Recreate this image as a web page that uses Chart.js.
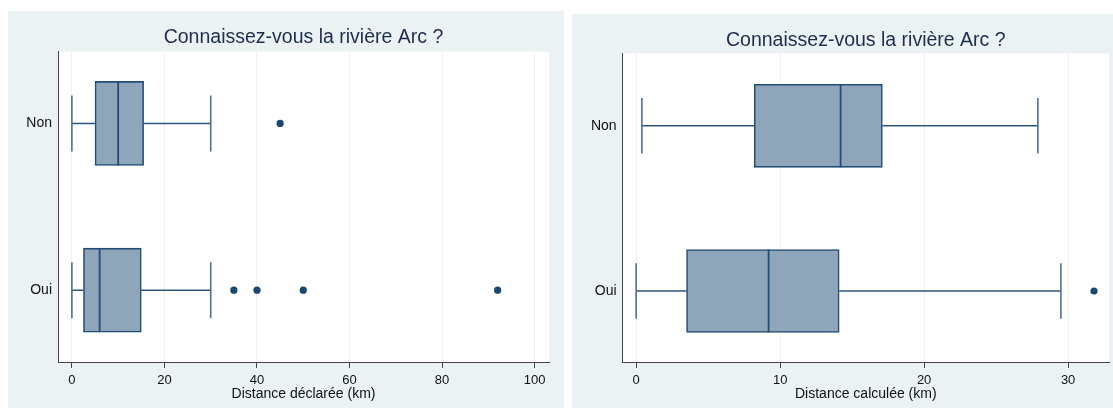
<!DOCTYPE html>
<html>
<head>
<meta charset="utf-8">
<script src="https://cdn.jsdelivr.net/npm/chart.js@4/dist/chart.umd.min.js"></script>
<style>
  html, body { margin: 0; padding: 0; background: #ffffff; }
  body { width: 1113px; height: 408px; overflow: hidden; position: relative; }
  .panel { position: absolute; background: #EAF2F3; }
  #p1 { left: 8px; top: 11px; width: 556px; height: 397px; }
  #p2 { left: 572px; top: 14px; width: 541px; height: 394px; }
  canvas { display: block; }
</style>
</head>
<body>
<div class="panel" id="p1"><canvas id="c1"></canvas></div>
<div class="panel" id="p2"><canvas id="c2"></canvas></div>
<script>
// Groups on the vertical axis (0 = bottom, 1 = top)
const groupLabels = ['Oui', 'Non'];
const groupPos = [0, 1];

// Distance déclarée (km): box-plot summaries per group [Oui, Non]
const declLow  = [0, 0];
const declQ1   = [2.5, 5];
const declMed  = [6, 10];
const declQ3   = [15, 15.5];
const declHigh = [30, 30];
const declOutX     = [35, 40, 50, 92, 45];
const declOutGroup = [0, 0, 0, 0, 1];
const declTicks = [0, 20, 40, 60, 80, 100];

// Distance calculée (km): box-plot summaries per group [Oui, Non]
const calcLow  = [0, 0.4];
const calcQ1   = [3.5, 8.2];
const calcMed  = [9.2, 14.2];
const calcQ3   = [14.1, 17.1];
const calcHigh = [29.5, 27.9];
const calcOutX     = [31.8];
const calcOutGroup = [0];
const calcTicks = [0, 10, 20, 30];

const titleText = 'Connaissez-vous la rivière Arc ?';

const FONT = '"Liberation Sans", Arial, Helvetica, sans-serif';
const BOX_FILL = '#8FA5B9';
const BOX_EDGE = '#234C76';
const WHISKER = '#2F5682';
const CAP = '#4D6F95';
const DOT = '#1A476F';
const AXIS = '#444444';
const GRID = '#EAF2F3';

// White plotting region behind the grid
const plotBackground = {
  id: 'plotBackground',
  beforeDraw(chart) {
    const { ctx, chartArea: a } = chart;
    ctx.save();
    ctx.fillStyle = '#ffffff';
    ctx.fillRect(a.left, a.top, a.right - a.left, a.bottom - a.top);
    ctx.restore();
  }
};

// Whiskers, caps and median lines, positioned through the chart scales
function boxLines(stats, capHalf) {
  return {
    id: 'boxLines',
    beforeDatasetsDraw(chart) {
      const { ctx, scales: { x, y } } = chart;
      ctx.save();
      stats.pos.forEach((p, i) => {
        const py = y.getPixelForValue(p);
        const top = y.getPixelForValue(p + capHalf);
        const bot = y.getPixelForValue(p - capHalf);
        const xl = x.getPixelForValue(stats.low[i]);
        const xh = x.getPixelForValue(stats.high[i]);
        ctx.lineWidth = 1.5;
        ctx.strokeStyle = WHISKER;
        ctx.beginPath();
        ctx.moveTo(xl, py); ctx.lineTo(x.getPixelForValue(stats.q1[i]), py);
        ctx.moveTo(x.getPixelForValue(stats.q3[i]), py); ctx.lineTo(xh, py);
        ctx.stroke();
        ctx.strokeStyle = CAP;
        ctx.lineWidth = 1.6;
        ctx.beginPath();
        ctx.moveTo(xl, top); ctx.lineTo(xl, bot);
        ctx.moveTo(xh, top); ctx.lineTo(xh, bot);
        ctx.stroke();
      });
      ctx.restore();
    },
    afterDatasetsDraw(chart) {
      const { ctx, scales: { x, y } } = chart;
      const meta = chart.getDatasetMeta(0);
      ctx.save();
      ctx.lineWidth = 1.8;
      ctx.strokeStyle = BOX_EDGE;
      stats.pos.forEach((p, i) => {
        const bar = meta.data[i];
        const half = bar.height / 2;
        const py = y.getPixelForValue(p);
        const xm = x.getPixelForValue(stats.med[i]);
        ctx.beginPath();
        ctx.moveTo(xm, py - half); ctx.lineTo(xm, py + half);
        ctx.stroke();
      });
      ctx.restore();
    }
  };
}

function makeChart(id, s) {
  const boxes = s.pos.map((p, i) => ({ y: p, x: [s.q1[i], s.q3[i]] }));
  const outliers = s.outX.map((v, i) => ({ x: v, y: s.outG[i] }));
  return new Chart(document.getElementById(id), {
    type: 'bar',
    data: {
      datasets: [
        {
          type: 'bar',
          data: boxes,
          backgroundColor: BOX_FILL,
          borderColor: BOX_EDGE,
          borderWidth: 1.6,
          borderSkipped: false,
          barThickness: s.boxPx,
          grouped: false
        },
        {
          type: 'scatter',
          data: outliers,
          pointRadius: 3.6,
          pointBackgroundColor: DOT,
          pointBorderWidth: 0
        }
      ]
    },
    options: {
      indexAxis: 'y',
      responsive: true,
      maintainAspectRatio: false,
      animation: false,
      events: [],
      layout: { padding: { left: 0, right: s.padRight, top: 0, bottom: 0 } },
      plugins: {
        legend: { display: false },
        tooltip: { enabled: false },
        title: {
          display: true,
          text: titleText,
          fullSize: false,
          color: '#1E2D50',
          font: { family: FONT, size: 19.5, weight: 'normal', lineHeight: 1.2 },
          padding: { top: s.titleTop, bottom: s.titleBottom }
        }
      },
      scales: {
        x: {
          type: 'linear',
          position: 'bottom',
          min: s.xmin,
          max: s.xmax,
          offset: false,
          afterBuildTicks: (sc) => { sc.ticks = s.ticks.map(v => ({ value: v })); },
          afterFit: (sc) => { sc.height = s.xAxisH; },
          grid: {
            display: true,
            drawOnChartArea: true,
            drawTicks: true,
            offset: false,
            color: GRID,
            lineWidth: 1,
            tickLength: 6,
            tickColor: AXIS,
            tickWidth: 1
          },
          border: { display: true, color: AXIS, width: 1 },
          ticks: {
            color: '#111111',
            font: { family: FONT, size: 13 },
            padding: 5,
            maxRotation: 0,
            autoSkip: false
          },
          title: {
            display: true,
            text: s.xTitle,
            color: '#111111',
            font: { family: FONT, size: 14 },
            padding: { top: 0, bottom: 5 }
          }
        },
        y: {
          type: 'linear',
          position: 'left',
          min: s.ymin,
          max: s.ymax,
          offset: false,
          afterBuildTicks: (sc) => { sc.ticks = groupPos.map(v => ({ value: v })); },
          afterFit: (sc) => { sc.width = s.yAxisW; },
          grid: { display: false, drawTicks: false, offset: false },
          border: { display: true, color: AXIS, width: 1 },
          ticks: {
            color: '#111111',
            font: { family: FONT, size: 14 },
            padding: 6,
            callback: (v) => groupLabels[groupPos.indexOf(v)] ?? ''
          }
        }
      }
    },
    plugins: [plotBackground, boxLines(s, 0.168)]
  });
}

makeChart('c1', {
  pos: groupPos, low: declLow, q1: declQ1, med: declMed, q3: declQ3, high: declHigh,
  outX: declOutX, outG: declOutGroup, ticks: declTicks,
  xmin: -3, xmax: 103.1, ymin: -0.431, ymax: 1.431,
  xTitle: 'Distance déclarée (km)',
  boxPx: 84, padRight: 15, titleTop: 14.8, titleBottom: 2.4, xAxisH: 46, yAxisW: 50
});

makeChart('c2', {
  pos: groupPos, low: calcLow, q1: calcQ1, med: calcMed, q3: calcQ3, high: calcHigh,
  outX: calcOutX, outG: calcOutGroup, ticks: calcTicks,
  xmin: -0.94, xmax: 32.84, ymin: -0.430, ymax: 1.439,
  xTitle: 'Distance calculée (km)',
  boxPx: 83, padRight: 0, titleTop: 14.6, titleBottom: 1.3, xAxisH: 46, yAxisW: 50.6
});
</script>
</body>
</html>
